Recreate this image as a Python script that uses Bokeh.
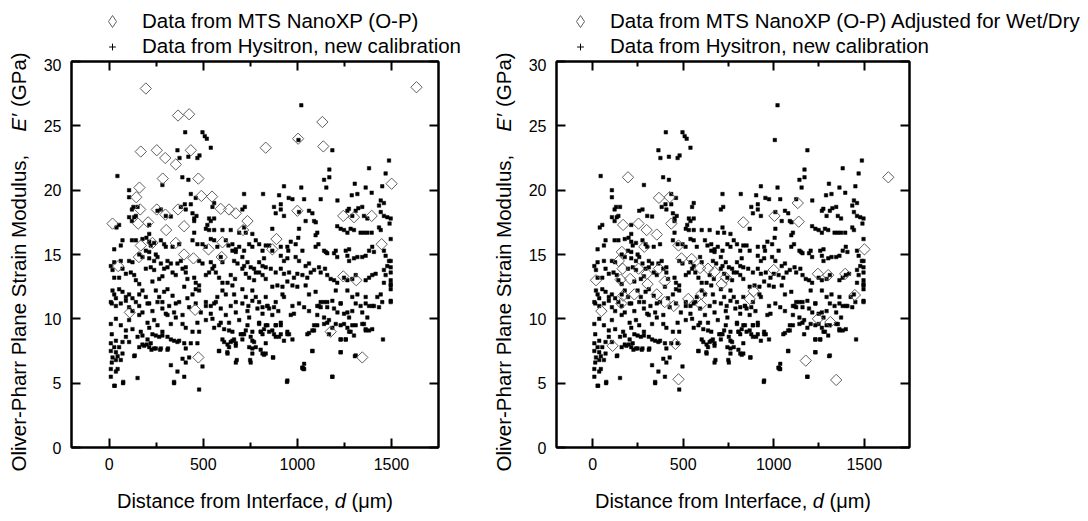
import math
from bokeh.plotting import figure
from bokeh.models import Range1d, FixedTicker, LinearAxis, Label, Legend, LegendItem
from bokeh.layouts import row, column
from bokeh.embed import file_html
from bokeh.resources import INLINE

FONT = "Liberation Sans"

# ---------------- data ----------------
x_ticks = [0, 500, 1000, 1500]
x_minor_ticks = [250, 750, 1250]
y_ticks = [0, 5, 10, 15, 20, 25, 30]

legend_mts_left = "Data from MTS NanoXP (O-P)"
legend_mts_right = "Data from MTS NanoXP (O-P) Adjusted for Wet/Dry"
legend_hys = "Data from Hysitron, new calibration"

# MTS NanoXP (Oliver-Pharr) points, distance (um) and modulus (GPa)
mts_d = [18, 48, 110, 144, 154, 158, 161, 165, 168, 168,
         195, 207, 230, 253, 253, 285, 298, 299, 303, 354,
         354, 366, 366, 398, 398, 425, 434, 448, 457, 474,
         474, 490, 528, 547, 593, 598, 602, 637, 673, 712,
         735, 832, 867, 889, 1000, 1004, 1133, 1138, 1177, 1244,
         1244, 1301, 1313, 1345, 1395, 1448, 1501, 1633]
mts_e = [17.4, 14.1, 10.5, 19.45, 17.4, 14.8, 20.2, 18.5, 15.7, 23.0,
         27.9, 17.5, 15.9, 23.1, 18.5, 20.9, 22.5, 18.1, 16.9, 22.0,
         15.9, 25.8, 18.5, 17.2, 15.0, 25.9, 23.1, 14.7, 10.7, 20.9,
         7.0, 19.55, 15.4, 19.5, 18.55, 14.8, 15.95, 18.5, 18.2, 16.9,
         17.6, 23.3, 15.4, 16.2, 18.4, 24.0, 25.3, 23.4, 9.0, 18.0,
         13.3, 17.9, 13.0, 7.0, 18.0, 15.8, 20.5, 28.0]
# same indents adjusted for wet/dry (right panel)
mts_adj_e = [13.0, 10.6, 7.9, 14.5, 13.05, 11.2, 15.2, 13.9, 11.8, 17.3,
             21.0, 13.1, 11.9, 17.4, 13.9, 15.6, 16.9, 13.5, 12.7, 16.55,
             11.9, 19.4, 13.9, 12.9, 11.3, 19.45, 17.4, 11.0, 8.05, 15.7,
             5.3, 14.7, 11.55, 14.65, 13.95, 11.1, 11.95, 13.9, 13.65, 12.7,
             13.2, 17.5, 11.55, 12.15, 13.8, 18.0, 19.0, 17.55, 6.75, 13.5,
             10.0, 13.4, 9.75, 5.25, 13.5, 11.85, 15.4, 21.0]

# Hysitron points (read region by region)
hys_d_a = [1021, 404, 496, 508, 519, 540, 363, 374, 421, 469,
           480, 1186, 1170, 1170, 1142, 1154, 283, 389, 421, 44,
           1021, 929, 818, 717, 903, 912, 954, 1036, 1009, 1124,
           1305, 1289, 1319, 1363, 1381, 1213, 721, 708, 876, 912,
           929, 1062, 1080, 1089, 1098, 1044, 558, 531, 549, 106,
           106, 129, 151, 106, 133, 257, 275, 328, 434, 460,
           434, 443, 452, 464, 407, 381, 402, 301, 558, 121,
           142, 121, 1487, 1469, 1451, 1395, 1443, 1460, 1434, 1443,
           1460, 1478, 1496, 974, 1274, 1266, 1310, 1324, 1345, 1354,
           1372, 1292, 885, 1006]
hys_e_a = [26.6, 24.5, 24.5, 24.2, 24.0, 23.3, 23.1, 22.5, 22.6, 22.5,
           22.7, 23.1, 21.6, 21.0, 20.8, 20.2, 20.4, 21.0, 20.8, 21.1,
           20.2, 20.3, 19.7, 19.7, 19.6, 18.9, 19.4, 19.3, 18.3, 19.3,
           20.5, 19.6, 19.7, 20.2, 21.7, 19.2, 18.7, 18.5, 18.7, 18.5,
           18.0, 18.4, 18.2, 17.6, 17.5, 17.6, 17.8, 17.8, 18.7, 20.0,
           19.45, 18.7, 18.7, 17.9, 17.9, 18.4, 18.5, 17.95, 19.7, 19.4,
           18.9, 18.2, 17.8, 18.0, 18.5, 18.7, 18.9, 18.0, 19.0, 18.5,
           18.0, 17.6, 22.3, 21.3, 20.3, 19.8, 19.2, 19.0, 18.8, 18.3,
           18.0, 17.9, 17.8, 19.3, 18.55, 18.4, 18.4, 18.6, 18.7, 18.0,
           17.8, 18.0, 18.2, 23.9]

hys_d_b = [53, 39, 213, 452, 514, 540, 522, 531, 558, 602,
           646, 691, 717, 726, 761, 452, 213, 71, 27, 62,
           121, 142, 177, 198, 213, 221, 239, 275, 292, 301,
           337, 372, 443, 469, 496, 513, 540, 558, 575, 620,
           634, 655, 673, 691, 717, 744, 761, 779, 797, 815,
           832, 9, 27, 62, 106, 124, 160, 177, 195, 213,
           213, 239, 248, 257, 275, 292, 310, 328, 363, 381,
           407, 478, 496, 540, 558, 593, 602, 655, 673, 664,
           682, 708, 717, 735, 752, 770, 779, 797, 815, 823,
           18, 27, 53, 71, 89, 115, 133, 142, 160, 195,
           221, 239, 230, 266, 283, 310, 337, 354, 390, 407,
           416, 452, 460, 478, 514, 531, 549, 567, 584, 602,
           629, 646, 669, 708, 726, 744, 770, 797, 815, 832,
           18, 27, 36, 14, 53, 71, 89, 106, 124, 142,
           160, 177, 195, 213, 248, 266, 283, 292, 310, 337,
           354, 399, 416, 443, 460, 478, 514, 540, 558, 575,
           602, 620, 655, 664, 673, 708, 726, 740, 761, 779,
           797, 815, 832]
hys_e_b = [17.3, 17.1, 17.3, 17.6, 17.0, 17.6, 17.3, 16.9, 16.9, 16.9,
           16.9, 16.7, 17.1, 16.7, 16.6, 16.7, 16.6, 16.1, 15.4, 15.7,
           16.1, 16.1, 16.2, 16.3, 16.0, 15.7, 15.9, 16.1, 15.8, 15.6,
           15.6, 15.8, 16.1, 15.8, 15.8, 15.6, 16.2, 16.1, 15.6, 16.1,
           15.7, 15.8, 15.4, 15.6, 15.3, 15.8, 15.6, 16.1, 15.8, 15.3,
           15.7, 14.1, 14.4, 14.5, 14.5, 14.4, 15.0, 14.8, 15.3, 15.2,
           14.7, 14.5, 15.0, 14.8, 14.3, 13.9, 14.5, 14.3, 14.3, 14.5,
           14.0, 14.5, 14.3, 14.4, 14.1, 14.8, 14.4, 15.3, 15.2, 14.5,
           14.3, 14.8, 14.1, 14.4, 14.0, 13.9, 13.6, 14.4, 14.1, 14.7,
           13.8, 13.2, 13.2, 13.9, 13.5, 13.6, 13.4, 13.0, 12.7, 13.9,
           14.0, 13.8, 12.9, 13.1, 13.3, 14.0, 13.6, 13.4, 13.9, 13.6,
           13.1, 13.2, 12.8, 12.6, 13.4, 13.6, 13.9, 13.6, 13.2, 12.8,
           12.8, 13.4, 13.1, 13.9, 13.5, 13.2, 13.0, 13.6, 13.4, 13.1,
           12.2, 11.9, 11.6, 11.2, 12.3, 12.1, 11.7, 11.9, 11.6, 11.3,
           11.9, 12.2, 11.7, 11.2, 12.2, 11.7, 11.3, 12.1, 12.3, 11.8,
           11.2, 12.5, 11.6, 11.9, 12.3, 12.2, 11.3, 11.0, 11.2, 11.7,
           12.2, 11.9, 12.6, 11.9, 11.3, 12.3, 11.7, 11.0, 12.2, 11.7,
           11.3, 10.9, 11.7]

hys_d_c = [9, 36, 62, 89, 106, 124, 160, 177, 204, 230,
           257, 283, 301, 319, 345, 372, 390, 425, 460, 487,
           514, 540, 567, 593, 620, 646, 673, 708, 735, 761,
           788, 815, 841, 9, 14, 36, 62, 89, 106, 124,
           160, 168, 204, 213, 239, 257, 283, 310, 328, 354,
           390, 407, 443, 478, 469, 514, 549, 558, 584, 611,
           637, 655, 691, 717, 735, 761, 797, 823, 841, 151,
           177, 204, 230, 248, 266, 283, 310, 328, 345, 363,
           399, 160, 186, 213, 239, 275, 310, 372, 434, 469,
           602, 611, 629, 637, 655, 673, 708, 752, 770, 805,
           815, 832, 36, 71, 9, 27, 53, 89, 106, 9,
           36, 18, 45, 71, 14, 36, 62, 133, 407, 584,
           629, 673, 752, 761, 815, 390, 407, 425, 328, 744,
           9, 45, 36, 9, 75, 27, 151, 363, 399, 345,
           496, 478]
hys_e_c = [11.3, 11.0, 11.2, 11.4, 10.9, 10.6, 11.0, 10.5, 11.2, 10.6,
           11.3, 10.8, 10.4, 11.0, 10.5, 11.3, 10.3, 10.9, 11.2, 10.5,
           11.0, 10.4, 11.3, 10.8, 10.3, 11.0, 10.5, 11.2, 10.6, 11.4,
           10.8, 10.4, 11.0, 9.6, 8.8, 10.0, 9.5, 9.1, 9.9, 9.2,
           10.3, 9.0, 9.7, 9.3, 9.9, 9.5, 9.0, 10.3, 9.6, 10.1,
           9.6, 9.3, 9.0, 9.0, 9.7, 9.9, 10.0, 9.3, 9.5, 9.2,
           9.7, 9.0, 9.9, 8.8, 9.5, 9.0, 9.6, 9.2, 9.5, 8.6,
           8.7, 8.4, 8.8, 8.7, 8.6, 8.7, 8.6, 8.4, 8.3, 8.2,
           8.1, 7.8, 7.9, 7.8, 7.7, 7.7, 7.6, 8.3, 8.1, 8.1,
           8.4, 8.2, 8.0, 7.8, 8.3, 8.1, 8.8, 8.6, 8.2, 9.0,
           8.8, 8.1, 8.3, 8.2, 8.1, 7.8, 7.8, 8.6, 8.2, 7.5,
           7.4, 7.0, 7.1, 7.3, 6.6, 6.8, 6.8, 7.1, 7.7, 7.5,
           7.3, 6.6, 6.6, 7.3, 7.3, 6.9, 6.6, 7.0, 6.4, 7.8,
           6.1, 6.1, 5.9, 5.5, 5.1, 4.8, 5.4, 5.9, 5.5, 5.1,
           6.3, 4.5]

hys_d_d = [885, 850, 899, 867, 832, 885, 912, 912, 965, 867,
           912, 947, 974, 885, 947, 1062, 1115, 1124, 1106, 1159,
           1195, 1213, 1230, 1248, 1266, 1292, 1275, 1310, 1336, 1345,
           1381, 1407, 1434, 1496, 1142, 1168, 1186, 1204, 1230, 1248,
           1266, 1275, 1310, 1354, 1363, 1381, 1398, 1089, 1080, 1053,
           1230, 1257, 1301, 1455, 1080, 1230, 1306, 871, 1036, 1027,
           1036, 945, 1186, 832]
hys_e_d = [11.3, 10.8, 10.6, 10.3, 9.5, 9.5, 9.7, 9.5, 10.3, 9.1,
           8.8, 8.8, 8.4, 8.6, 9.0, 10.6, 11.0, 11.3, 10.3, 11.3,
           10.8, 10.5, 11.2, 10.4, 10.5, 10.6, 10.1, 11.2, 11.0, 10.5,
           11.0, 11.0, 10.9, 11.3, 9.6, 9.9, 9.3, 9.6, 9.5, 9.6,
           9.3, 9.0, 9.5, 9.6, 9.2, 9.1, 9.2, 9.5, 9.1, 8.8,
           8.4, 8.4, 8.7, 8.4, 7.5, 7.4, 7.1, 7.0, 6.5, 6.2,
           6.1, 5.1, 5.5, 7.3]

hys_d_e = [1212, 1230, 1248, 1266, 1283, 1301, 1336, 1354, 1372, 1395,
           1443, 1434, 1009, 1005, 1106, 1097, 867, 965, 991, 1027,
           1097, 1112, 1142, 1151, 1159, 1195, 1204, 1212, 1257, 1275,
           1266, 1275, 1301, 1319, 1345, 1363, 1381, 1398, 1407, 1460,
           1469, 1487, 1478, 867, 850, 912, 947, 952, 912, 929,
           947, 991, 1009, 1044, 1062, 1089, 1115, 1124, 1147, 1159,
           1177, 1195, 1212, 1248, 1266, 1292, 1310, 1363, 1381, 1398,
           1416, 1460, 1469, 1460, 1496, 832, 859, 885, 912, 929,
           956, 982, 1000, 1027, 1053, 1071, 867, 894, 921, 947,
           974, 1000, 1044, 1062, 1097, 1106, 1142, 1159, 1186, 1204,
           1230, 1266, 1292, 1319, 1363, 1363, 1398, 1425, 1443, 1451,
           1496, 1496, 841, 876, 921, 929, 974, 1009, 1036]
hys_e_e = [17.2, 17.0, 16.9, 16.7, 17.0, 16.9, 16.7, 16.7, 16.7, 16.7,
           16.9, 17.1, 17.0, 16.3, 16.7, 16.5, 17.0, 16.0, 15.8, 15.3,
           15.6, 15.8, 15.3, 15.2, 15.1, 15.1, 15.3, 14.8, 15.3, 15.4,
           14.9, 14.5, 14.7, 14.8, 14.8, 14.9, 15.3, 15.6, 15.2, 15.3,
           14.9, 14.5, 14.1, 15.3, 15.7, 15.6, 15.6, 15.3, 14.9, 14.5,
           14.7, 14.8, 14.5, 14.1, 14.3, 13.8, 14.0, 13.6, 13.9, 13.4,
           13.1, 13.0, 12.8, 13.2, 13.0, 13.1, 13.4, 13.0, 13.2, 13.4,
           13.5, 13.8, 13.4, 12.8, 13.0, 14.0, 13.9, 13.6, 13.9, 13.5,
           13.6, 13.2, 13.5, 13.4, 13.2, 13.6, 12.5, 12.6, 12.5, 12.9,
           12.6, 12.5, 12.6, 11.9, 12.1, 11.0, 11.3, 10.9, 11.4, 12.2,
           11.2, 12.2, 11.7, 11.9, 11.7, 11.2, 11.0, 11.7, 11.9, 11.3,
           12.6, 11.4, 11.0, 10.9, 11.9, 11.7, 11.0, 11.2, 10.9]

hys_d_f = [593, 637, 646, 664, 673, 699, 708, 726, 744, 761,
           779, 797, 806, 850, 876, 885, 903, 929, 956, 982,
           1062, 1089, 1106, 1124, 1142, 1159, 1168, 1230, 1257, 1283,
           1292, 1345, 1363, 1372, 678, 749, 823, 871, 805, 761,
           584, 628, 136, 1080, 1230, 1310, 1027, 1032, 947, 1186,
           30, 74, 345, 1496, 1496, 1496, 1496, 1496, 1496, 1490,
           225, 248, 271, 313, 177, 200, 221]
hys_e_f = [9.7, 9.1, 8.2, 8.4, 7.9, 8.8, 8.4, 9.1, 10.1, 8.3,
           7.8, 9.7, 9.0, 9.0, 8.8, 9.5, 8.6, 8.3, 8.8, 10.4,
           8.9, 9.1, 9.5, 10.9, 10.1, 9.7, 8.8, 8.4, 8.4, 9.0,
           9.5, 9.6, 9.1, 10.1, 6.8, 6.8, 7.2, 7.0, 7.6, 7.7,
           7.5, 7.4, 7.15, 7.5, 7.4, 7.15, 6.2, 6.1, 5.2, 5.5,
           4.8, 5.0, 5.0, 14.5, 14.0, 13.6, 12.7, 12.3, 16.2, 17.4,
           7.6, 7.7, 7.6, 7.7, 8.0, 8.0, 8.1]

hys_d = hys_d_a + hys_d_b + hys_d_c + hys_d_d + hys_d_e + hys_d_f
hys_e = hys_e_a + hys_e_b + hys_e_c + hys_e_d + hys_e_e + hys_e_f

# ---------------- text helpers ----------------
WID = {' ': 278, '(': 333, ')': 333, ',': 278, '-': 333, '/': 278, '\u2032': 250, '\u03bc': 576,
       'A': 667, 'D': 722, 'E': 667, 'G': 778, 'I': 278, 'M': 833, 'O': 778, 'P': 667, 'S': 667,
       'a': 556, 'c': 500, 'd': 556, 'e': 556, 'f': 278, 'h': 556, 'i': 222, 'l': 222, 'm': 833,
       'n': 556, 'o': 556, 'r': 333, 's': 500, 't': 278, 'u': 556, 'v': 500, 'y': 500}
X_FS = 20
Y_FS = 20.5
LEGEND_FS = "20.5px"


def tw(s, fs):
    return sum(WID.get(c, 556) for c in s) * fs / 1000.0


X_TITLE = [("Distance from Interface, ", "normal"), ("d", "italic"), (" (\u03bcm)", "normal")]
Y_TITLE_1 = [("Oliver-Pharr Plane Strain Modulus,", "normal")]
Y_TITLE_2 = [("E\u2032", "italic"), (" (GPa)", "normal")]


def put_pieces(p, pieces, x0, y0, vertical, fs):
    off = 0.0
    for txt, style in pieces:
        core = txt.strip(' ')
        lead = len(txt) - len(txt.lstrip(' '))
        trail = len(txt) - lead - len(core)
        off += tw(' ' * lead, fs)
        if vertical:
            lab = Label(x=x0, y=y0 + off, angle=math.pi / 2)
        else:
            lab = Label(x=x0 + off, y=y0)
        lab.update(x_units="data", y_units="data", text=core, text_font=FONT,
                   text_font_size=f"{fs}px", text_font_style=style, text_color="black",
                   text_align="left", text_baseline="middle")
        p.add_layout(lab)
        off += tw(core, fs) + tw(' ' * trail, fs)


def blank_fig(w, h, y_lo=0):
    f = figure(frame_width=w, frame_height=h, x_range=Range1d(0, w), y_range=Range1d(y_lo, y_lo + h),
               output_backend="svg", toolbar_location=None,
               x_axis_location=None, y_axis_location=None,
               min_border=0, min_border_left=0, min_border_right=0,
               min_border_top=0, min_border_bottom=0)
    f.outline_line_color = None
    f.grid.visible = False
    try:
        f.frame_align = False
    except Exception:
        pass
    return f


def style_axis(ax, ticks, labelled):
    ax.axis_line_width = 2
    ax.axis_line_color = "black"
    ax.major_tick_in = 9
    ax.major_tick_out = 0
    ax.minor_tick_in = 5
    ax.minor_tick_out = 0
    ax.major_tick_line_width = 2
    ax.minor_tick_line_width = 2
    ax.major_tick_line_color = "black"
    ax.minor_tick_line_color = "black"
    ax.major_label_text_font = FONT
    ax.major_label_text_color = "black"
    if labelled:
        ax.major_label_standoff = 10
        ax.major_label_text_font_size = "16px"
    else:
        ax.major_label_standoff = 0
        ax.major_label_text_font_size = "1px"
        ax.major_label_overrides = {t: "" for t in ticks}


FRAME_H = 386
HEAD_H = 58
TOP_B = 3
BOT_B = 32
TITLE_H = 521 - HEAD_H - TOP_B - FRAME_H - BOT_B


def make_panel(frame_w, left, right, mts_vals):
    p = figure(frame_width=frame_w, frame_height=FRAME_H,
               x_range=Range1d(-200, 1750), y_range=Range1d(0, 30),
               output_backend="svg", toolbar_location=None,
               x_axis_location=None, y_axis_location=None,
               min_border_left=left, min_border_right=right,
               min_border_top=TOP_B, min_border_bottom=BOT_B)
    p.outline_line_color = "black"
    p.outline_line_width = 2
    p.grid.visible = False

    xt = FixedTicker(ticks=x_ticks, minor_ticks=x_minor_ticks)
    yt = FixedTicker(ticks=y_ticks, minor_ticks=[])
    for loc, lab in (("below", True), ("above", False)):
        ax = LinearAxis(ticker=xt)
        style_axis(ax, x_ticks, lab)
        p.add_layout(ax, loc)
    for loc, lab in (("left", True), ("right", False)):
        ax = LinearAxis(ticker=yt)
        style_axis(ax, y_ticks, lab)
        p.add_layout(ax, loc)

    p.scatter(hys_d, hys_e, marker="square", size=3.5, fill_color="black", line_color="black",
              line_width=0.5)
    p.scatter(mts_d, mts_vals, marker="square", angle=math.pi / 4, size=8,
              fill_color=None, line_color="#5f5f5f", line_width=1)
    return p


def key_legend(renderer, label, loc, glyph_h):
    return Legend(items=[LegendItem(label=label, renderers=[renderer], index=0)],
                  location=loc, orientation="vertical",
                  padding=0, margin=0, spacing=0,
                  glyph_width=30, glyph_height=glyph_h, label_height=20, label_standoff=15,
                  label_text_font=FONT, label_text_font_size=LEGEND_FS, label_text_color="black",
                  label_text_baseline="middle",
                  border_line_color=None, background_fill_alpha=0)


def make_header(width, mts_vals, mts_label, legend_x):
    # header strip: its own (off-range) view of the same series, used only for the key
    h = blank_fig(width, HEAD_H, y_lo=-HEAD_H)
    k_mts = h.scatter(mts_d, mts_vals, marker="diamond", size=8,
                      fill_color=None, line_color="#5f5f5f", line_width=1)
    k_hys = h.scatter(hys_d, hys_e, marker="cross", size=8, line_color="black", line_width=1)
    h.add_layout(key_legend(k_mts, mts_label, (legend_x, 22), 30))
    h.add_layout(key_legend(k_hys, legend_hys, (legend_x, 0), 17))
    return h


# left block: canvas x 0..490 ; y-title strip 0..36, plot 36..490
yl = blank_fig(36, 521)
hl = make_header(454, mts_e, legend_mts_left, 97 - 36)
pl = make_panel(367, 35, 52, mts_e)
xl = blank_fig(454, TITLE_H)
# right block: canvas x 490..1088 ; y-title strip 490..521, plot 521..1088
yr = blank_fig(31, 521)
hr = make_header(567, mts_adj_e, legend_mts_right, 565 - 521)
pr = make_panel(353, 35, 179, mts_adj_e)
xr = blank_fig(567, TITLE_H)

xw = tw("".join(t for t, _ in X_TITLE), X_FS)
put_pieces(xl, X_TITLE, (254.5 - 36) - xw / 2, 21, False, X_FS)
put_pieces(xr, X_TITLE, (732.5 - 521) - xw / 2, 21, False, X_FS)
for f, cx in ((yl, 18), (yr, 13)):
    put_pieces(f, Y_TITLE_1, cx, 521 - 471, True, Y_FS)
    put_pieces(f, Y_TITLE_2, cx, 521 - 131, True, Y_FS)

layout = row(row(yl, column(hl, pl, xl)), row(yr, column(hr, pr, xr)))
open("out.html", "w").write(file_html(layout, INLINE))
